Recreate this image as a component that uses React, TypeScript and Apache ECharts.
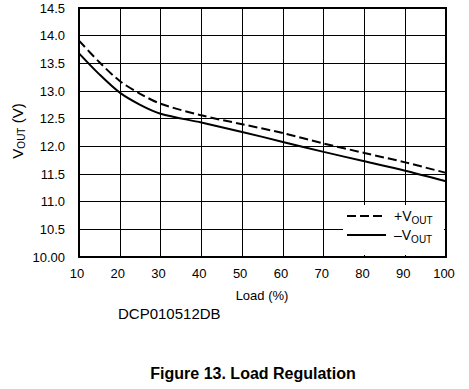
import React, { useEffect, useRef } from "react";
import * as echarts from "echarts";

const loadPct = [10, 15, 20, 25, 30, 40, 50, 60, 70, 80, 90, 100];
const vPlus = [13.91, 13.52, 13.18, 12.95, 12.77, 12.56, 12.4, 12.24, 12.05, 11.88, 11.71, 11.52];
const vMinus = [13.68, 13.3, 12.97, 12.75, 12.59, 12.43, 12.26, 12.08, 11.9, 11.73, 11.56, 11.37];
const xTicks = [10, 20, 30, 40, 50, 60, 70, 80, 90, 100];
const yTicks = ["10.00", "10.5", "11.0", "11.5", "12.0", "12.5", "13.0", "13.5", "14.0", "14.5"];

const FONT = "Liberation Sans, Arial, sans-serif";

export default function App() {
  const ref = useRef<HTMLDivElement>(null);
  useEffect(() => {
    if (!ref.current) return;
    const chart = echarts.init(ref.current, null, { renderer: "svg" });
    const sub = {
      m: { fontSize: 14, fontFamily: FONT, color: "#000", lineHeight: 16, verticalAlign: "bottom" },
      s: { fontSize: 10, fontFamily: FONT, color: "#000", lineHeight: 12, verticalAlign: "bottom", padding: [0, 0, -2, 0] },
    };
    chart.setOption({
      animation: false,
      grid: { left: 79, right: 23, top: 8, bottom: 132, show: true, borderColor: "#000", borderWidth: 2, backgroundColor: "transparent" },
      xAxis: {
        type: "value",
        min: 10,
        max: 100,
        interval: 10,
        axisLine: { show: true, lineStyle: { color: "#000", width: 2 } },
        axisTick: { show: false },
        axisLabel: {
          color: "#000",
          fontSize: 13,
          fontFamily: FONT,
          margin: 10,
          padding: [0, 4, 0, 0],
          formatter: (v: number) => (xTicks.includes(v) ? String(v) : ""),
        },
        splitLine: { show: true, lineStyle: { color: "#000", width: 1 } },
      },
      yAxis: {
        type: "value",
        min: 10,
        max: 14.5,
        interval: 0.5,
        axisLine: { show: true, lineStyle: { color: "#000", width: 2 } },
        axisTick: { show: false },
        axisLabel: {
          color: "#000",
          fontSize: 13,
          fontFamily: FONT,
          margin: 14,
          formatter: (v: number) => yTicks[Math.round((v - 10) / 0.5)] ?? "",
        },
        splitLine: { show: true, lineStyle: { color: "#000", width: 1 } },
      },
      series: [
        {
          name: "+VOUT",
          type: "line",
          data: loadPct.map((x, i) => [x, vPlus[i]]),
          smooth: 0.3,
          showSymbol: false,
          symbol: "none",
          lineStyle: { color: "#000", width: 2, type: [9, 4] },
          z: 5,
        },
        {
          name: "-VOUT",
          type: "line",
          data: loadPct.map((x, i) => [x, vMinus[i]]),
          smooth: 0.3,
          showSymbol: false,
          symbol: "none",
          lineStyle: { color: "#000", width: 2 },
          z: 5,
        },
      ],
      graphic: [
        {
          type: "rect",
          z: 100,
          shape: { x: 343, y: 205, width: 101, height: 50 },
          style: { fill: "#fff" },
        },
        {
          type: "line",
          z: 101,
          shape: { x1: 347, y1: 216, x2: 386, y2: 216 },
          style: { stroke: "#000", lineWidth: 2, lineDash: [9, 4] },
        },
        {
          type: "line",
          z: 101,
          shape: { x1: 347, y1: 235, x2: 386, y2: 235 },
          style: { stroke: "#000", lineWidth: 2 },
        },
        {
          type: "text",
          z: 101,
          x: 394,
          y: 207,
          style: { text: "{m|+V}{s|OUT}", rich: sub },
        },
        {
          type: "text",
          z: 101,
          x: 394,
          y: 226,
          style: { text: "{m|\u2013V}{s|OUT}", rich: sub },
        },
        {
          type: "text",
          z: 101,
          x: 16,
          y: 131,
          rotation: Math.PI / 2,
          style: {
            text: "{m|V}{s|OUT}{m| (V)}",
            align: "center",
            verticalAlign: "middle",
            rich: {
              m: { fontSize: 15, fontFamily: FONT, color: "#000", lineHeight: 17, verticalAlign: "bottom" },
              s: { fontSize: 10, fontFamily: FONT, color: "#000", lineHeight: 12, verticalAlign: "bottom", padding: [0, 0, -2, 0] },
            },
          },
        },
        {
          type: "text",
          x: 262,
          y: 295,
          style: { text: "Load (%)", fontSize: 13, fontFamily: FONT, fill: "#000", align: "center", verticalAlign: "middle" },
        },
        {
          type: "text",
          x: 118,
          y: 313,
          style: { text: "DCP010512DB", fontSize: 15, fontFamily: FONT, fill: "#000", align: "left", verticalAlign: "middle" },
        },
        {
          type: "text",
          x: 253,
          y: 373,
          style: { text: "Figure 13. Load Regulation", fontSize: 16, fontWeight: "bold", fontFamily: FONT, fill: "#000", align: "center", verticalAlign: "middle" },
        },
      ],
    });
    return () => chart.dispose();
  }, []);
  return <div ref={ref} style={{ position: "fixed", left: 0, top: 0, width: 469, height: 389, background: "#fff" }} />;
}
